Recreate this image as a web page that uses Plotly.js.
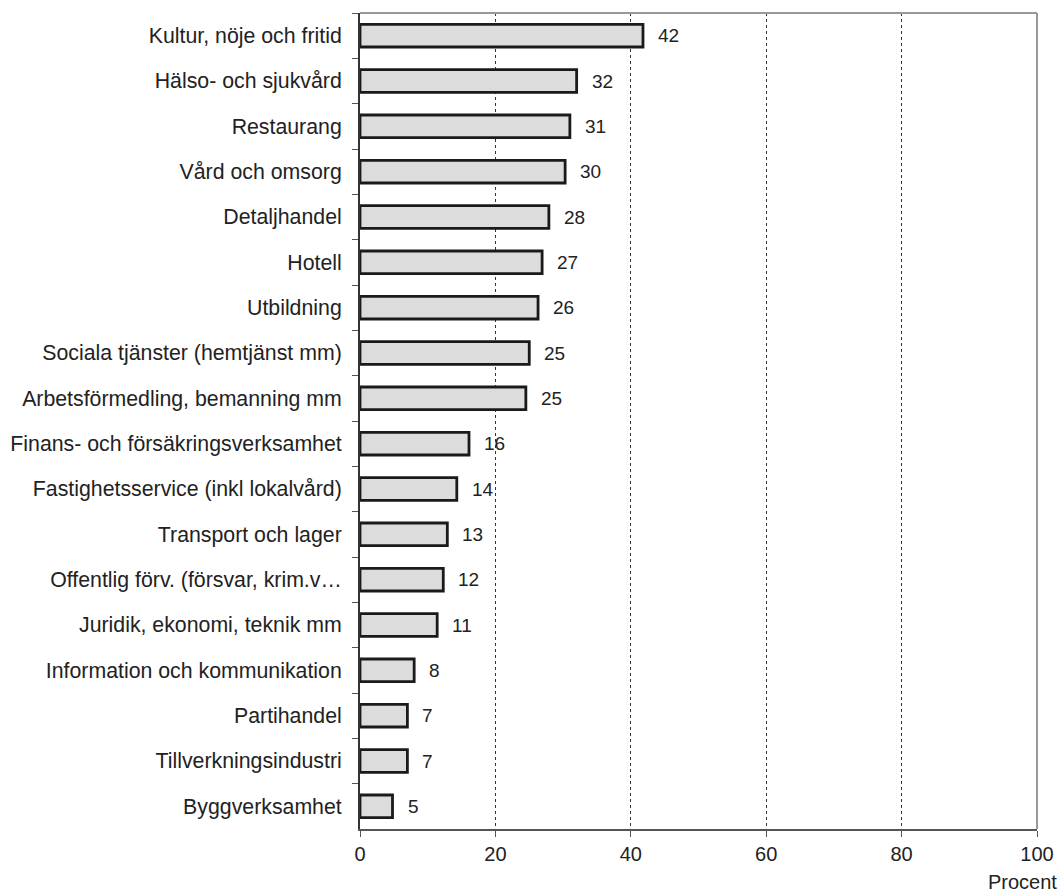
<!DOCTYPE html>
<html>
<head>
<meta charset="utf-8">
<script src="https://cdn.plot.ly/plotly-3.0.1.min.js"></script>
<style>body{margin:0;background:#fff}#chart{width:1063px;height:893px}</style>
</head>
<body>
<div id="chart"></div>
<script>
const categories = [
  "Kultur, nöje och fritid",
  "Hälso- och sjukvård",
  "Restaurang",
  "Vård och omsorg",
  "Detaljhandel",
  "Hotell",
  "Utbildning",
  "Sociala tjänster (hemtjänst mm)",
  "Arbetsförmedling, bemanning mm",
  "Finans- och försäkringsverksamhet",
  "Fastighetsservice (inkl lokalvård)",
  "Transport och lager",
  "Offentlig förv. (försvar, krim.v…",
  "Juridik, ekonomi, teknik mm",
  "Information och kommunikation",
  "Partihandel",
  "Tillverkningsindustri",
  "Byggverksamhet"
];
const values = [41.8, 32.0, 31.0, 30.3, 27.9, 26.9, 26.3, 25.0, 24.5, 16.1, 14.3, 12.9, 12.3, 11.4, 8.0, 7.0, 7.0, 4.8];
const valueLabels = ["42","32","31","30","28","27","26","25","25","16","14","13","12","11","8","7","7","5"];
const xTicks = [0, 20, 40, 60, 80, 100];
const xAxisLabel = "Procent";

const fam = "Liberation Sans, Arial, sans-serif";
const font = {family: fam, size: 20, color: "#222"};

const trace = {
  type: "bar",
  orientation: "h",
  y: categories,
  x: values,
  width: 0.5,
  marker: {color: "#dcdcdc", line: {color: "#1a1a1a", width: 2.8}},
  hoverinfo: "x+y"
};

const annotations = categories.map((c, i) => ({
  x: values[i], y: c, xref: "x", yref: "y",
  text: valueLabels[i], showarrow: false,
  xanchor: "left", xshift: 13,
  font: {family: fam, size: 19, color: "#222"}
}));
annotations.push({
  x: 1, y: 0, xref: "paper", yref: "paper",
  text: xAxisLabel, showarrow: false,
  xanchor: "right", yanchor: "top", yshift: -40, xshift: 22,
  font: {family: fam, size: 20, color: "#222"}
});

const layout = {
  width: 1063, height: 893,
  margin: {l: 360, r: 26, t: 13, b: 64},
  paper_bgcolor: "#fff", plot_bgcolor: "#fff",
  font: font,
  showlegend: false,
  xaxis: {
    range: [0, 100],
    tickvals: xTicks,
    ticktext: xTicks.map(String),
    showgrid: true, gridcolor: "#333", griddash: "dot", gridwidth: 1,
    zeroline: false,
    showline: true, linecolor: "#555", linewidth: 2,
    ticks: "outside", ticklen: 6, tickcolor: "#555",
    tickfont: {family: fam, size: 20, color: "#222"},
    fixedrange: true
  },
  yaxis: {
    type: "category",
    categoryorder: "array", categoryarray: categories,
    autorange: "reversed",
    showgrid: false, zeroline: false,
    showline: true, linecolor: "#333", linewidth: 2,
    ticks: "outside", ticklen: 6, tickcolor: "#555", tickson: "boundaries",
    ticklabelstandoff: 12,
    tickfont: {family: fam, size: 21.3, color: "#222"},
    fixedrange: true
  },
  shapes: [
    {type: "line", xref: "paper", yref: "paper", x0: 0, x1: 1, y0: 1, y1: 1, line: {color: "#999", width: 2}},
    {type: "line", xref: "paper", yref: "paper", x0: 1, x1: 1, y0: 0, y1: 1, line: {color: "#999", width: 2}}
  ],
  annotations: annotations
};

Plotly.newPlot("chart", [trace], layout, {displayModeBar: false, staticPlot: true});
</script>
</body>
</html>
